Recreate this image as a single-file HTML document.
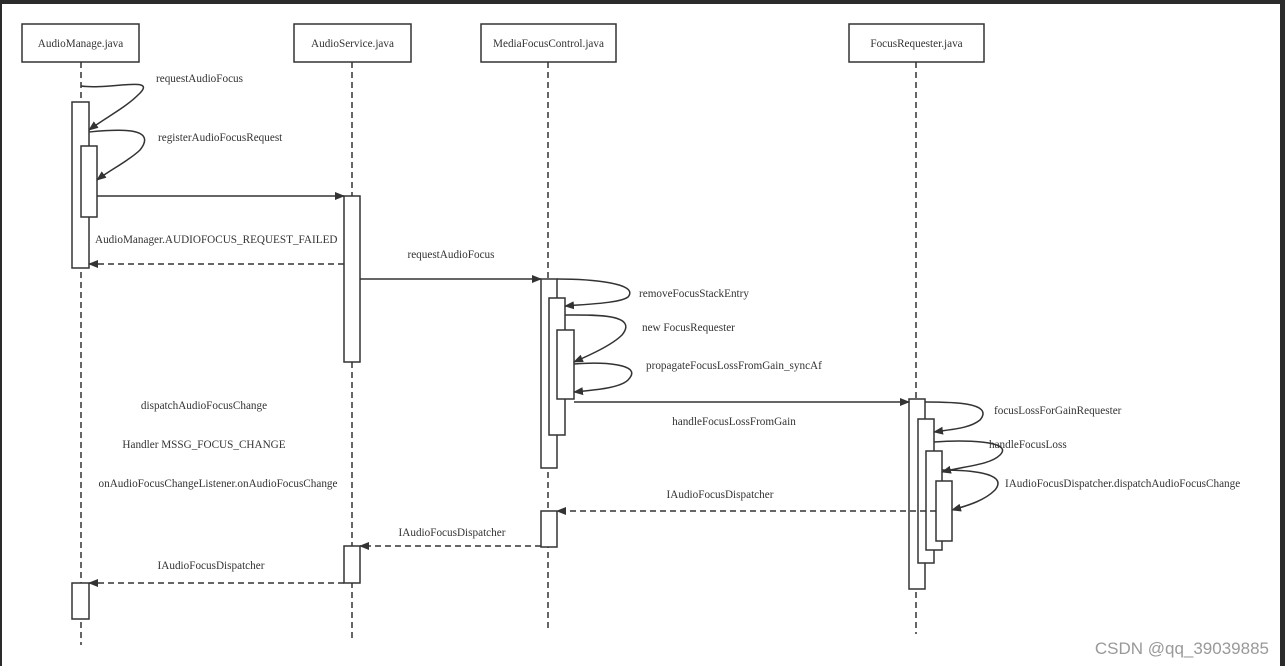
<!DOCTYPE html>
<html><head><meta charset="utf-8"><style>
html,body{margin:0;padding:0;background:#fff;}
svg{display:block;}
text{font-family:"Liberation Serif",serif;font-size:11.2px;fill:#333;}
</style></head><body>
<svg width="1285" height="666" viewBox="0 0 1285 666" xmlns="http://www.w3.org/2000/svg">
<defs>
<marker id="a" viewBox="0 0 10 10" refX="9" refY="5" markerWidth="10" markerHeight="10" orient="auto" markerUnits="userSpaceOnUse"><path d="M0,1 L10,5 L0,9 z" fill="#333"/></marker>
</defs>
<rect x="0" y="0" width="1285" height="666" fill="#fff"/>
<rect x="0" y="0" width="1285" height="4" fill="#2b2b2b"/>
<rect x="0" y="0" width="2" height="666" fill="#2b2b2b"/>
<rect x="1280" y="0" width="5" height="666" fill="#2b2b2b"/>
<g stroke="#333" stroke-width="1.5" fill="#fff">
<rect x="22" y="24" width="117" height="38"/>
<rect x="294" y="24" width="117" height="38"/>
<rect x="481" y="24" width="135" height="38"/>
<rect x="849" y="24" width="135" height="38"/>
</g>
<text x="80.5" y="47" text-anchor="middle">AudioManage.java</text>
<text x="352.5" y="47" text-anchor="middle">AudioService.java</text>
<text x="548.5" y="47" text-anchor="middle">MediaFocusControl.java</text>
<text x="916.5" y="47" text-anchor="middle">FocusRequester.java</text>
<g stroke="#333" stroke-width="1.5" stroke-dasharray="6,4" fill="none">
<line x1="81" y1="62" x2="81" y2="645"/>
<line x1="352" y1="62" x2="352" y2="640"/>
<line x1="548" y1="62" x2="548" y2="632"/>
<line x1="916" y1="62" x2="916" y2="634"/>
</g>
<g stroke="#333" stroke-width="1.5" fill="#fff">
<rect x="72" y="102" width="17" height="166"/>
<rect x="81" y="146" width="16" height="71"/>
<rect x="72" y="583" width="17" height="36"/>
<rect x="344" y="196" width="16" height="166"/>
<rect x="344" y="546" width="16" height="37"/>
<rect x="541" y="279" width="16" height="189"/>
<rect x="549" y="298" width="16" height="137"/>
<rect x="557" y="330" width="17" height="69"/>
<rect x="541" y="511" width="16" height="36"/>
<rect x="909" y="399" width="16" height="190"/>
<rect x="918" y="419" width="16" height="144"/>
<rect x="926" y="451" width="16" height="99"/>
<rect x="936" y="481" width="16" height="60"/>
</g>
<g stroke="#333" stroke-width="1.5" fill="none" marker-end="url(#a)">
<path d="M81,86 C110,90 160,75 138,95 C125,108 105,118 89,130"/>
<path d="M89,132 C110,130 160,125 140,150 C130,160 110,170 97,180"/>
<line x1="97" y1="196" x2="344" y2="196"/>
<line x1="344" y1="264" x2="89" y2="264" stroke-dasharray="6,4"/>
<line x1="360" y1="279" x2="541" y2="279"/>
<path d="M557,279 C590,279 640,283 628,297 C620,303 590,304 565,306"/>
<path d="M565,315 C590,315 640,313 622,335 C612,345 590,355 574,362"/>
<path d="M574,364 C600,362 645,363 628,380 C620,388 595,390 574,392"/>
<line x1="574" y1="402" x2="909" y2="402"/>
<path d="M925,402 C950,402 995,402 980,420 C970,428 955,429 934,432"/>
<path d="M934,442 C960,440 1015,440 1000,455 C990,465 965,466 942,472"/>
<path d="M942,470 C965,470 1010,472 995,490 C985,500 970,505 952,510"/>
<line x1="936" y1="511" x2="557" y2="511" stroke-dasharray="6,4"/>
<line x1="541" y1="546" x2="360" y2="546" stroke-dasharray="6,4"/>
<line x1="344" y1="583" x2="89" y2="583" stroke-dasharray="6,4"/>
</g>
<text x="156" y="82">requestAudioFocus</text>
<text x="158" y="141">registerAudioFocusRequest</text>
<text x="95" y="243">AudioManager.AUDIOFOCUS_REQUEST_FAILED</text>
<text x="451" y="258" text-anchor="middle">requestAudioFocus</text>
<text x="639" y="297">removeFocusStackEntry</text>
<text x="642" y="331">new FocusRequester</text>
<text x="646" y="369">propagateFocusLossFromGain_syncAf</text>
<text x="734" y="425" text-anchor="middle">handleFocusLossFromGain</text>
<text x="994" y="414">focusLossForGainRequester</text>
<text x="989" y="448">handleFocusLoss</text>
<text x="1005" y="487">IAudioFocusDispatcher.dispatchAudioFocusChange</text>
<text x="720" y="498" text-anchor="middle">IAudioFocusDispatcher</text>
<text x="452" y="536" text-anchor="middle">IAudioFocusDispatcher</text>
<text x="211" y="569" text-anchor="middle">IAudioFocusDispatcher</text>
<text x="204" y="409" text-anchor="middle">dispatchAudioFocusChange</text>
<text x="204" y="448" text-anchor="middle">Handler MSSG_FOCUS_CHANGE</text>
<text x="218" y="487" text-anchor="middle">onAudioFocusChangeListener.onAudioFocusChange</text>
<text x="1269" y="654" text-anchor="end" style="font-family:'Liberation Sans',sans-serif;font-size:17px;fill:#999;">CSDN @qq_39039885</text>
</svg>
</body></html>
